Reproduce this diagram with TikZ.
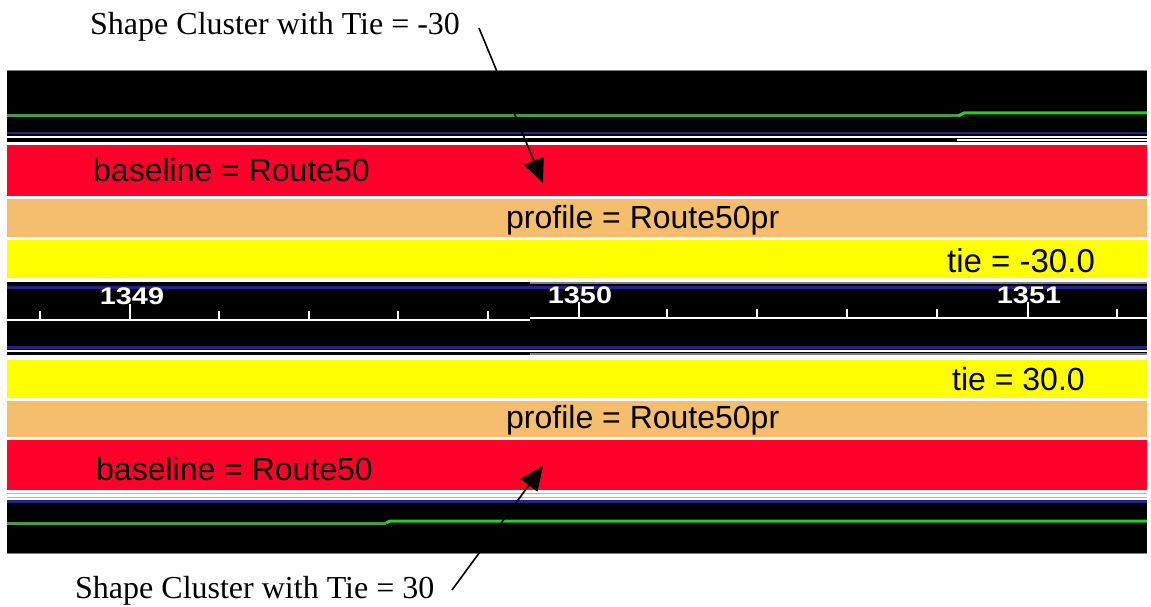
\documentclass[tikz,border=0pt]{standalone}
\usepackage{fontspec}
\setmainfont{Liberation Serif}
\newfontfamily\arial{Liberation Sans}
\usetikzlibrary{arrows.meta}
\definecolor{bandred}{RGB}{255,0,42}
\definecolor{bandtan}{RGB}{245,190,110}
\definecolor{bandyel}{RGB}{255,255,0}
\definecolor{grn}{RGB}{40,205,40}
\definecolor{dgrn}{RGB}{75,150,75}
\definecolor{navy}{RGB}{35,35,140}
\begin{document}
\begin{tikzpicture}[x=1pt,y=-1pt,
  bandlabel/.style={inner sep=0pt,anchor=base west,font=\arial\fontsize{32}{38}\selectfont},
  callout/.style={inner sep=0pt,anchor=base west,font=\fontsize{32}{38}\selectfont},
  ruler/.style={inner sep=0pt,anchor=base,text=white,font=\arial\bfseries\fontsize{24}{28}\selectfont},
  pointer/.style={line width=1.6pt,-{Triangle[length=24pt,width=21pt]}},
  tick/.style={white,line width=2.5pt}]
\useasboundingbox (0,0) rectangle (1151,607);
% ---------- top black band
\fill[black] (7,70) rectangle (1147,142);
\draw[gray,line width=1pt] (7,70.5) -- (1147,70.5);
\draw[dgrn,line width=3pt] (7,116) -- (958,116);
\draw[grn,line width=3pt] (958,116) -- (964,113) -- (1147,113);
\draw[navy,line width=2pt] (7,133) -- (1147,133);
\draw[white,line width=2pt] (7,137) -- (1147,137);
\draw[white,line width=2pt] (957,140.5) -- (1147,140.5);
% ---------- bands
\fill[bandred] (7,145) rectangle (1147,196);
\fill[bandtan] (7,199) rectangle (1147,237);
\fill[bandyel] (7,240) rectangle (1147,278);
% ---------- ruler
\fill[black] (7,282) rectangle (1147,355);
\draw[gray,line width=1.2pt] (530,283) -- (1147,283);
\draw[navy,line width=3pt] (7,287) -- (1147,287);
\draw[navy,line width=2.5pt] (7,347.5) -- (1147,347.5);
\draw[white,line width=2pt] (7,350.5) -- (1147,350.5);
\draw[gray,line width=1.2pt] (530,354) -- (1147,354);
\draw[tick] (7,320) -- (530,320);
\draw[tick] (530,318) -- (1147,318);
\foreach \x in {40,219,309,398,488} {\draw[tick] (\x,311) -- (\x,320);}
\foreach \x in {667,757,847,937,1117} {\draw[tick] (\x,309) -- (\x,318);}
\draw[tick] (130,304) -- (130,320);
\draw[tick] (579,302) -- (579,318);
\draw[tick] (1028,302) -- (1028,318);
\node[ruler] (r1349) at (132,304) {\scalebox{1.2}[1]{1349}};
\node[ruler] (r1350) at (580,303) {\scalebox{1.2}[1]{1350}};
\node[ruler] (r1351) at (1029,303) {\scalebox{1.2}[1]{1351}};
% ---------- lower bands
\fill[bandyel] (7,360) rectangle (1147,398);
\fill[bandtan] (7,401) rectangle (1147,437);
\fill[bandred] (7,440) rectangle (1147,490);
% ---------- bottom black band
\draw[gray!60,line width=1pt] (7,493) -- (1147,493);
\draw[gray!60,line width=1pt] (7,497) -- (1147,497);
\fill[black] (7,500) rectangle (1147,553);
\draw[navy,line width=2.5pt] (7,501.5) -- (1147,501.5);
\draw[dgrn,line width=3pt] (7,523) -- (386,523);
\draw[grn,line width=3pt] (386,523) -- (390,521) -- (1147,521);
\draw[gray,line width=1pt] (7,553) -- (1147,553);
% ---------- band labels
\node[bandlabel] (base1) at (93,181) {baseline = Route50};
\node[bandlabel] (prof1) at (506,228) {profile = Route50pr};
\node[bandlabel,font=\arial\fontsize{33}{38}\selectfont] (tie1) at (947,272) {tie = -30.0};
\node[bandlabel] (tie2) at (952,390) {tie = 30.0};
\node[bandlabel] (prof2) at (506,428) {profile = Route50pr};
\node[bandlabel] (base2) at (96,480) {baseline = Route50};
% ---------- callouts
\node[callout] (c1) at (90,35) {Shape Cluster with Tie = -30};
\node[callout] (c2) at (75,598) {Shape Cluster with Tie = 30};
\coordinate (c1s) at (479,28);
\coordinate (c1e) at (543,183);
\coordinate (c2s) at (452,590);
\coordinate (c2e) at (543,466);
\draw[pointer] (c1s) -- (c1e);
\draw[pointer] (c2s) -- (c2e);
\end{tikzpicture}
\end{document}
